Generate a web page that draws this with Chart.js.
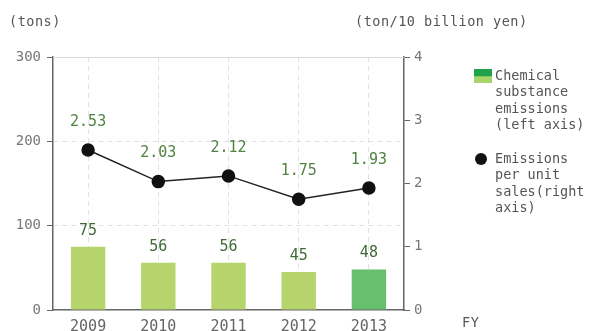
<!DOCTYPE html>
<html>
<head>
<meta charset="utf-8">
<script src="https://cdn.jsdelivr.net/npm/chart.js@4.4.0/dist/chart.umd.min.js"></script>
<style>
  body { margin: 0; background: #fff; }
  #wrap { position: relative; width: 589px; height: 331px; font-family: "DejaVu Sans Mono", monospace; color: #555; }
  .unit { position: absolute; font-size: 13.5px; color: #555; letter-spacing: 0.5px; }
  #legend { position: absolute; left: 474px; top: 67px; font-size: 13.5px; line-height: 16.3px; color: #555; }
  .item { position: relative; padding-left: 21px; margin-bottom: 18px; }
  .swatch { position: absolute; left: 0; top: 2px; width: 18px; height: 14px; background: linear-gradient(#20a24a 0%, #20a24a 50%, #a9d46a 55%, #a9d46a 100%); }
  .dot { position: absolute; left: 1px; top: 3px; width: 12px; height: 12px; border-radius: 50%; background: #111; }
</style>
</head>
<body>
<div id="wrap">
  <canvas id="chart" width="589" height="331"></canvas>
  <div class="unit" style="left:9px; top:13px;">(tons)</div>
  <div class="unit" style="left:355px; top:13px;">(ton/10 billion yen)</div>
  <div class="unit" style="left:462px; top:314px;">FY</div>
  <div id="legend">
    <div class="item"><span class="swatch"></span>Chemical<br>substance<br>emissions<br>(left axis)</div>
    <div class="item"><span class="dot"></span>Emissions<br>per unit<br>sales(right<br>axis)</div>
  </div>
</div>
<script>
const years = ['2009', '2010', '2011', '2012', '2013'];
const emissions = [75, 56, 56, 45, 48];          // tons
const perUnitSales = [2.53, 2.03, 2.12, 1.75, 1.93]; // ton / 10 billion yen
const leftTicks = [0, 100, 200, 300];
const rightTicks = [0, 1, 2, 3, 4];

const barColors = ['#b5d46c', '#b5d46c', '#b5d46c', '#b5d46c', '#66c06e'];

// value labels above bars and points
const valueLabels = {
    id: 'valueLabels',
    afterDatasetsDraw(chart) {
        const ctx = chart.ctx;
        ctx.save();
        ctx.textAlign = 'center';
        ctx.textBaseline = 'middle';
        ctx.font = '15px "DejaVu Sans Mono", monospace';

        chart.getDatasetMeta(1).data.forEach((bar, i) => {
            ctx.fillStyle = '#3f6a35';
            ctx.fillText(String(emissions[i]), bar.x, bar.y - 16);
        });
        chart.getDatasetMeta(0).data.forEach((pt, i) => {
            ctx.fillStyle = '#4f8240';
            ctx.fillText(perUnitSales[i].toFixed(2), pt.x, pt.y - 28);
        });

        // solid top edge of the plot area
        const a = chart.chartArea;
        ctx.strokeStyle = '#d8d8d8';
        ctx.lineWidth = 1;
        ctx.beginPath();
        ctx.moveTo(a.left, a.top + 0.5);
        ctx.lineTo(a.right, a.top + 0.5);
        ctx.stroke();
        ctx.restore();
    }
};

const tickFont = { family: '"DejaVu Sans Mono", monospace', size: 14 };

new Chart(document.getElementById('chart'), {
    data: {
        labels: years,
        datasets: [{
            type: 'line',
            label: 'Emissions per unit sales(right axis)',
            data: perUnitSales,
            yAxisID: 'y1',
            borderColor: '#222',
            borderWidth: 1.5,
            pointBackgroundColor: '#111',
            pointBorderColor: '#111',
            pointRadius: 6,
            tension: 0
        }, {
            type: 'bar',
            label: 'Chemical substance emissions (left axis)',
            data: emissions,
            yAxisID: 'y',
            backgroundColor: barColors,
            barPercentage: 0.49,
            categoryPercentage: 1
        }]
    },
    options: {
        responsive: false,
        animation: false,
        layout: {
            padding: { top: 57, right: 145, bottom: 0, left: 0 }
        },
        plugins: {
            legend: { display: false },
            tooltip: { enabled: false }
        },
        scales: {
            x: {
                offset: true,
                grid: {
                    offset: false,
                    color: '#e2e2e2',
                    drawTicks: false
                },
                border: { color: '#666', width: 1.5, dash: [5, 4] },
                ticks: { color: '#666', font: { family: tickFont.family, size: 15 }, padding: 8 },
                afterFit(scale) { scale.height = 21; }
            },
            y: {
                position: 'left',
                min: 0,
                max: 300,
                afterBuildTicks(scale) { scale.ticks = leftTicks.map(v => ({ value: v })); },
                grid: {
                    color: (c) => (c.tick && (c.tick.value === 0 || c.tick.value === 300)) ? 'rgba(0,0,0,0)' : '#e2e2e2',
                    tickColor: '#666',
                    tickLength: 6
                },
                border: { color: '#666', width: 1.5, dash: [5, 4] },
                ticks: { color: '#777', font: tickFont, padding: 6 },
                afterFit(scale) { scale.width = 53; }
            },
            y1: {
                position: 'right',
                min: 0,
                max: 4,
                afterBuildTicks(scale) { scale.ticks = rightTicks.map(v => ({ value: v })); },
                grid: {
                    drawOnChartArea: false,
                    tickColor: '#666',
                    tickLength: 6
                },
                border: { color: '#666', width: 1.5 },
                ticks: { color: '#777', font: tickFont, padding: 4 },
                afterFit(scale) { scale.width = 40; }
            }
        }
    },
    plugins: [valueLabels]
});
</script>
</body>
</html>
